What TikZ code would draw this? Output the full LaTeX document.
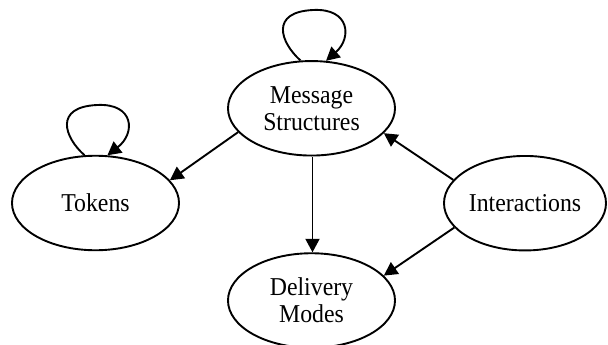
\documentclass[tikz,border=0pt]{standalone}
\usepackage{fontspec}
\usepackage{graphicx}
\setmainfont{Liberation Serif}
\usetikzlibrary{shapes.geometric,arrows.meta}
\newcommand\lbl[1]{\raisebox{-3pt}[\height][\depth]{\scalebox{1}[1.08]{\begin{tabular}{@{}c@{}}#1\end{tabular}}}}
\begin{document}
\begin{tikzpicture}[x=1pt,y=-1pt,
  state/.style={draw,ellipse,line width=1.9pt,inner sep=0pt,align=center,
    minimum width=167pt,minimum height=94.5pt,
    font=\fontsize{23.8}{25.5}\selectfont},
  conn/.style={line width=1.9pt,-{Triangle[length=13.5pt,width=14pt]}}]
\useasboundingbox (0,0) rectangle (608,345);
\clip (0,0) rectangle (608,345);
\node[state] (ms) at (311.5,108.3) {\lbl{Message\\Structures}};
\node[state] (tok) at (95.5,203) {\lbl{Tokens}};
\node[state,minimum width=162pt] (int) at (525,203.2) {\lbl{Interactions}};
\node[state] (dm) at (311.5,300.5) {\lbl{Delivery\\Modes}};
\draw[conn] (ms.103) .. controls (280,42) and (270,12) .. (313,10)
  .. controls (350,8) and (352,38) .. (ms.73);
\draw[conn] (tok.103) .. controls (64,137) and (54,107) .. (97,105)
  .. controls (134,103) and (136,133) .. (tok.76);
\draw[conn] (ms.198.9) -- (tok.17.7);
\draw[conn] ([xshift=1pt]ms.south) -- ([xshift=1pt]dm.north);
\draw[conn] (int.162.4) -- (ms.341);
\draw[conn] (int.199.4) -- (dm.19.8);
\end{tikzpicture}
\end{document}
